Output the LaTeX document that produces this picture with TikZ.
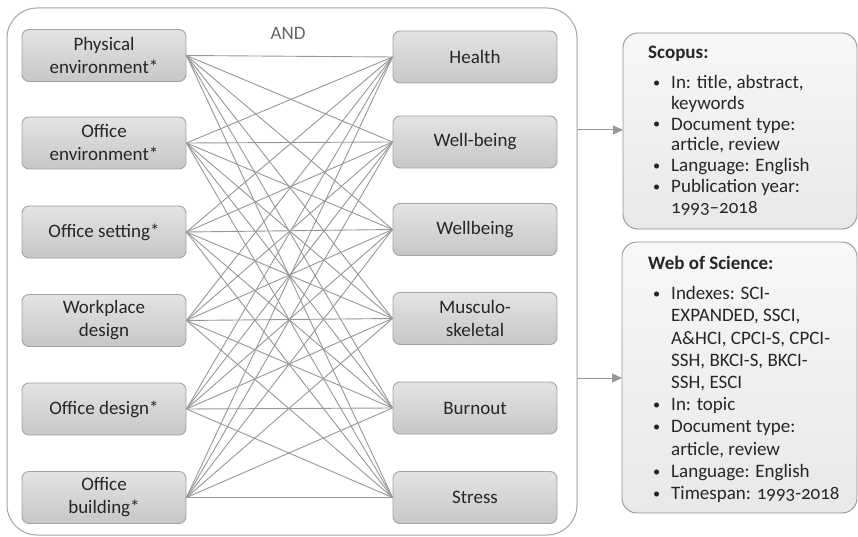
\documentclass[tikz,border=0pt]{standalone}
\usepackage{fontspec}
\setmainfont{Carlito}
\newfontfamily\oldnum[Numbers=OldStyle]{Carlito}
\usetikzlibrary{arrows.meta}
\definecolor{txt}{HTML}{262626}
\definecolor{edge}{HTML}{A3A3A3}
\definecolor{conn}{HTML}{979797}
\newcommand{\bul}{\hspace*{5pt}\makebox[18pt][l]{\raisebox{1.3pt}{\scalebox{0.75}{•}}}}
\newcommand{\cont}{\hspace*{23pt}}
\begin{document}
\begin{tikzpicture}[x=1pt,y=-1pt,
  termbox/.style={draw=edge,line width=0.9pt,rounded corners=7pt,top color=black!11,bottom color=black!22,
    minimum width=164pt,minimum height=52pt,inner sep=2pt,align=center,text=txt,
    font=\fontsize{19}{23}\selectfont},
  infobox/.style={draw=edge!90!black,line width=0.9pt,rounded corners=15pt,top color=black!3,bottom color=black!9},
  infotext/.style={anchor=north west,align=left,inner sep=0pt,text=txt},
  link/.style={draw=conn,line width=0.9pt},
  flow/.style={draw=conn,line width=1pt,-{Triangle[length=10pt,width=9pt]}}]
\useasboundingbox (0,0) rectangle (858,537);
% container
\draw[edge,line width=1pt,fill=white,rounded corners=30pt] (7,8) rectangle (577,535);
\node[text=black!60,font=\fontsize{19}{22}\selectfont] (and) at (288,33) {AND};
% left column
\node[termbox] (l1) at (104,55.5) {Physical\\environment*};
\node[termbox] (l2) at (104,143) {Office\\environment*};
\node[termbox] (l3) at (104,232) {Office setting*};
\node[termbox] (l4) at (104,320.5) {Workplace\\design};
\node[termbox] (l5) at (104,409) {Office design*};
\node[termbox] (l6) at (104,497.5) {Office\\building*};
% right column
\node[termbox] (r1) at (475,57) {Health};
\node[termbox] (r2) at (475,142) {Well-being};
\node[termbox] (r3) at (475,229.5) {Wellbeing};
\node[termbox] (r4) at (475,318.5) {Musculo-\\skeletal};
\node[termbox] (r5) at (475,408) {Burnout};
\node[termbox] (r6) at (475,497.5) {Stress};
% connections
\foreach \i in {1,...,6}{
  \foreach \j in {1,...,6}{
    \path[link] (l\i.east) -- (r\j.west);
  }
}
% info boxes
\draw[infobox] (623,33) rectangle (857,229);
\draw[infobox] (622,242) rectangle (857,513);
\coordinate (sc) at (623,130);
\coordinate (ws) at (622,378);
\coordinate (c1) at (577,130);
\coordinate (c2) at (577,378);
\draw[flow] (c1) -- (sc);
\draw[flow] (c2) -- (ws);
\node[infotext,font=\fontsize{19}{20.8}\selectfont] (scopus) at (648,46) {\textbf{Scopus:}\\[9pt]
\bul In: title, abstract,\\
\cont keywords\\
\bul Document type:\\
\cont article, review\\
\bul Language: English\\
\bul Publication year:\\
\cont {\oldnum 1993–2018}};
\node[infotext,font=\fontsize{19}{22.2}\selectfont] (wos) at (648,256) {\textbf{Web of Science:}\\[8pt]
\bul Indexes: SCI-\\
\cont EXPANDED, SSCI,\\
\cont A\&HCI, CPCI-S, CPCI-\\
\cont SSH, BKCI-S, BKCI-\\
\cont SSH, ESCI\\
\bul In: topic\\
\bul Document type:\\
\cont article, review\\
\bul Language: English\\
\bul Timespan: {\oldnum 1993-2018}};
\end{tikzpicture}
\end{document}
